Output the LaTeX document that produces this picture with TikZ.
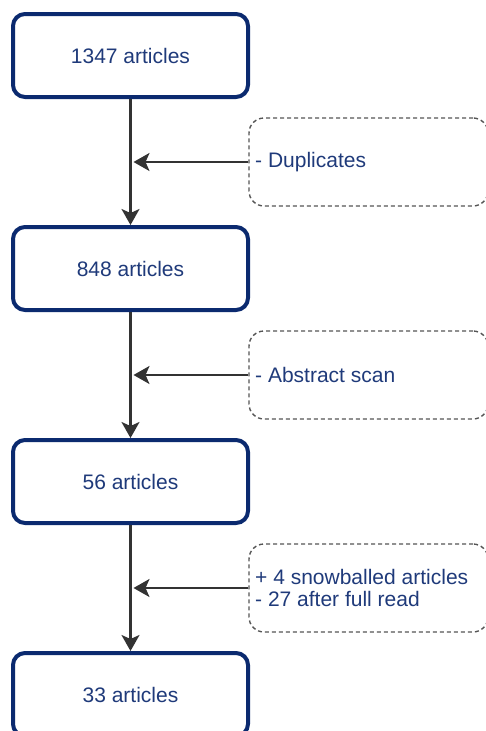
\documentclass[tikz,border=0pt]{standalone}
\usepackage{fontspec}
\setmainfont{Liberation Sans}
\usetikzlibrary{arrows.meta,calc}
\definecolor{navyline}{HTML}{0B2A6F}
\definecolor{navytext}{HTML}{1F3A7A}
\definecolor{flowgray}{HTML}{333333}
\definecolor{dashgray}{HTML}{555555}
\begin{document}
\begin{tikzpicture}[x=1pt,y=-1pt,
  stagebox/.style={draw=navyline,line width=4pt,rounded corners=12pt,fill=white,
    minimum width=235pt,minimum height=83pt,inner sep=0pt,
    text=navytext,font=\fontsize{21}{25}\selectfont},
  notebox/.style={draw=dashgray,line width=1.4pt,dash pattern=on 4pt off 3pt,
    rounded corners=15pt,minimum width=239pt,minimum height=88pt,inner sep=0pt},
  notetext/.style={anchor=west,align=left,inner sep=0pt,text=navytext,
    font=\fontsize{21}{22}\selectfont},
  flow/.style={draw=flowgray,line width=2.2pt,
    -{Stealth[length=16pt,width=18pt,inset=4pt]}}]
\useasboundingbox (0,0) rectangle (486,731);

% main stages
\node[stagebox] (s1) at (130.5,55.5) {1347 articles};
\node[stagebox] (s2) at (130.5,268.5) {848 articles};
\node[stagebox] (s3) at (130.5,481.5) {56 articles};
\node[stagebox] (s4) at (130.5,694.5) {33 articles};

% filtering notes
\node[notebox] (n1) at (368.5,162) {};
\node[notebox] (n2) at (368.5,375) {};
\node[notebox] (n3) at (368.5,588) {};
\node[notetext] (t1) at (255,162) {- Duplicates};
\node[notetext] (t2) at (255,375) {- Abstract scan};
\node[notetext] (t3) at (255,588) {+ 4 snowballed articles\\- 27 after full read};

% flow between stages
\draw[flow] (s1.south) -- (s2.north);
\draw[flow] (s2.south) -- (s3.north);
\draw[flow] (s3.south) -- (s4.north);

% notes feeding into the flow
\coordinate (m1) at ($(n1.west -| s1.south)+(3,0)$);
\coordinate (m2) at ($(n2.west -| s2.south)+(3,0)$);
\coordinate (m3) at ($(n3.west -| s3.south)+(3,0)$);
\draw[flow] (n1.west) -- (m1);
\draw[flow] (n2.west) -- (m2);
\draw[flow] (n3.west) -- (m3);
\end{tikzpicture}
\end{document}
